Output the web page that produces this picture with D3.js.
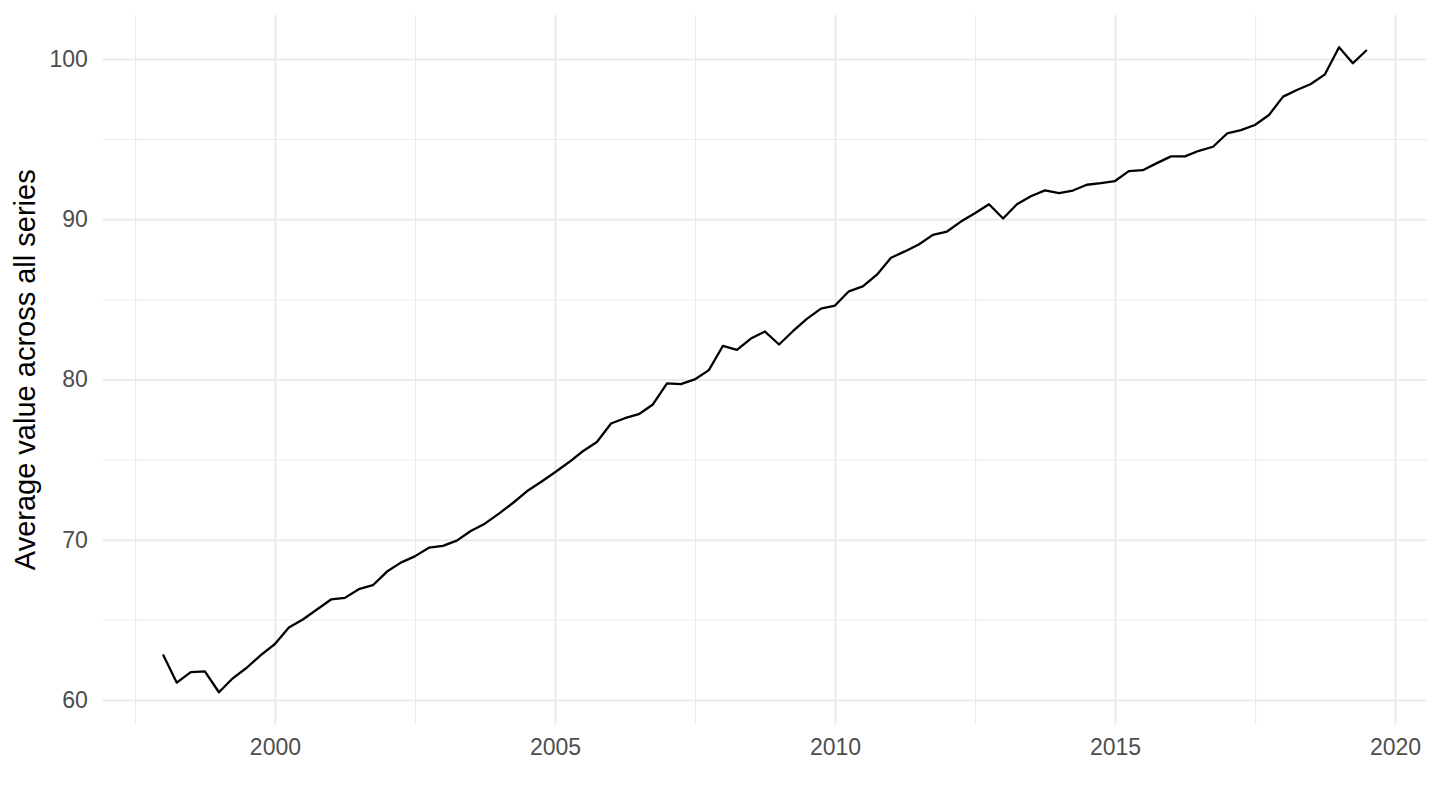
<!DOCTYPE html>
<html>
<head>
<meta charset="utf-8">
<script src="https://cdn.jsdelivr.net/npm/d3@7/dist/d3.min.js"></script>
<style>
  html, body { margin: 0; padding: 0; background: #ffffff; }
  svg { display: block; }
  text { font-family: "Liberation Sans", Arial, Helvetica, sans-serif; }
</style>
</head>
<body>
<svg id="chart" width="1440" height="810"></svg>
<script>
// ---- data ----
const startQuarter = "1998-01-01";
const values = [
  62.84, 61.08, 61.74, 61.78, 60.48, 61.35, 62.01, 62.80, 63.49, 64.52,
  65.02, 65.64, 66.27, 66.37, 66.91, 67.16, 68.01, 68.57, 68.96, 69.50,
  69.61, 69.94, 70.54, 71.00, 71.63, 72.29, 73.02, 73.60, 74.21, 74.83,
  75.52, 76.10, 77.25, 77.58, 77.83, 78.44, 79.75, 79.71, 80.00, 80.58,
  82.10, 81.85, 82.55, 82.99, 82.18, 83.01, 83.78, 84.42, 84.61, 85.50,
  85.81, 86.54, 87.59, 87.99, 88.42, 89.02, 89.23, 89.85, 90.37, 90.93,
  90.04, 90.93, 91.43, 91.80, 91.63, 91.79, 92.15, 92.25, 92.38, 93.00,
  93.06, 93.50, 93.92, 93.92, 94.27, 94.52, 95.35, 95.56, 95.88, 96.50,
  97.65, 98.06, 98.44, 99.04, 100.73, 99.73, 100.56
];
const xMajorYears = [2000, 2005, 2010, 2015, 2020];
const xMinorYears = [1997.5, 2002.5, 2007.5, 2012.5, 2017.5];
const yMajorTicks = [60, 70, 80, 90, 100];
const yMinorTicks = [65, 75, 85, 95];
const yTitle = "Average value across all series";

// ---- build dated series ----
const parse = d3.timeParse("%Y-%m-%d");
const t0 = parse(startQuarter);
const data = values.map((v, i) => ({ date: d3.timeMonth.offset(t0, 3 * i), value: v }));

const yearToDate = y => {
  const yr = Math.floor(y);
  const frac = y - yr;
  const a = new Date(yr, 0, 1), b = new Date(yr + 1, 0, 1);
  return new Date(+a + frac * (b - a));
};

// ---- layout ----
const panel = { left: 102.8, right: 1427, top: 15, bottom: 724.5 };
const FONT = '"Liberation Sans", Arial, Helvetica, sans-serif';

const xExt = d3.extent(data, d => d.date);
const xSpan = xExt[1] - xExt[0];
const x = d3.scaleTime()
  .domain([new Date(+xExt[0] - 0.05 * xSpan), new Date(+xExt[1] + 0.05 * xSpan)])
  .range([panel.left, panel.right]);

const yExt = d3.extent(values);
const ySpan = yExt[1] - yExt[0];
const y = d3.scaleLinear()
  .domain([yExt[0] - 0.05 * ySpan, yExt[1] + 0.05 * ySpan])
  .range([panel.bottom, panel.top]);

const svg = d3.select("#chart");
const H = panel.bottom - panel.top;
const W = panel.right - panel.left;

// minor grid (x)
svg.append("g")
  .attr("transform", `translate(0,${panel.bottom})`)
  .call(d3.axisBottom(x).tickValues(xMinorYears.map(yearToDate)).tickSize(-H).tickFormat(""))
  .call(g => g.select(".domain").remove())
  .call(g => g.selectAll(".tick line").attr("stroke", "#EBEBEB").attr("stroke-width", 1.1));

// minor grid (y)
svg.append("g")
  .attr("transform", `translate(${panel.left},0)`)
  .call(d3.axisLeft(y).tickValues(yMinorTicks).tickSize(-W).tickFormat(""))
  .call(g => g.select(".domain").remove())
  .call(g => g.selectAll(".tick line").attr("stroke", "#EBEBEB").attr("stroke-width", 1.1));

// major grid (x)
svg.append("g")
  .attr("transform", `translate(0,${panel.bottom})`)
  .call(d3.axisBottom(x).tickValues(xMajorYears.map(yearToDate)).tickSize(-H).tickFormat(""))
  .call(g => g.select(".domain").remove())
  .call(g => g.selectAll(".tick line").attr("stroke", "#EBEBEB").attr("stroke-width", 2.1));

// major grid (y)
svg.append("g")
  .attr("transform", `translate(${panel.left},0)`)
  .call(d3.axisLeft(y).tickValues(yMajorTicks).tickSize(-W).tickFormat(""))
  .call(g => g.select(".domain").remove())
  .call(g => g.selectAll(".tick line").attr("stroke", "#EBEBEB").attr("stroke-width", 2.1));

// x tick labels
svg.append("g")
  .attr("transform", `translate(0,${panel.bottom})`)
  .call(d3.axisBottom(x).tickValues(xMajorYears.map(yearToDate)).tickSize(0).tickPadding(14)
        .tickFormat(d3.timeFormat("%Y")))
  .call(g => g.select(".domain").remove())
  .call(g => g.selectAll(".tick text")
      .attr("fill", "#4D4D4D").style("font-size", "23px").style("font-family", FONT));

// y tick labels
svg.append("g")
  .attr("transform", `translate(${panel.left},0)`)
  .call(d3.axisLeft(y).tickValues(yMajorTicks).tickSize(0).tickPadding(15).tickFormat(d3.format("d")))
  .call(g => g.select(".domain").remove())
  .call(g => g.selectAll(".tick text")
      .attr("fill", "#4D4D4D").style("font-size", "23px").style("font-family", FONT));

// line
svg.append("path")
  .datum(data)
  .attr("fill", "none")
  .attr("stroke", "#000000")
  .attr("stroke-width", 2.3)
  .attr("stroke-linejoin", "round")
  .attr("stroke-linecap", "butt")
  .attr("d", d3.line().x(d => x(d.date)).y(d => y(d.value)));

// y axis title
svg.append("text")
  .attr("transform", `translate(35,${(panel.top + panel.bottom) / 2}) rotate(-90)`)
  .attr("text-anchor", "middle")
  .attr("fill", "#000000")
  .style("font-size", "29px")
  .style("font-family", FONT)
  .text(yTitle);
</script>
</body>
</html>
